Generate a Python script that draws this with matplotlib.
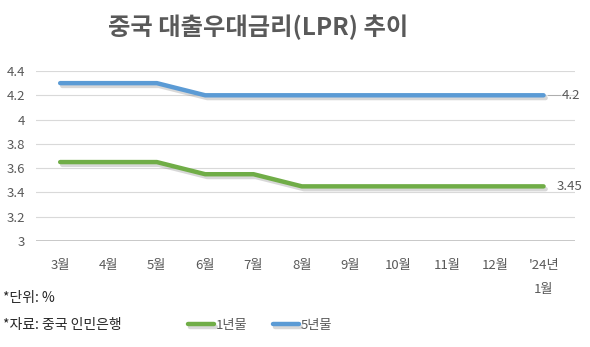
import matplotlib
matplotlib.use("Agg")
import matplotlib.pyplot as plt
import matplotlib.patheffects as pe

plt.rcParams['font.family'] = ['Noto Sans CJK KR', 'DejaVu Sans']

# 월별 LPR (%)
months = ['3월', '4월', '5월', '6월', '7월', '8월', '9월', '10월', '11월', '12월', "'24년\n\n1월"]
lpr_1y = [3.65, 3.65, 3.65, 3.55, 3.55, 3.45, 3.45, 3.45, 3.45, 3.45, 3.45]
lpr_5y = [4.3, 4.3, 4.3, 4.2, 4.2, 4.2, 4.2, 4.2, 4.2, 4.2, 4.2]
yticks = [3, 3.2, 3.4, 3.6, 3.8, 4, 4.2, 4.4]
ytick_labels = ['3', '3.2', '3.4', '3.6', '3.8', '4', '4.2', '4.4']

text_gray = '#595959'
green = '#70AD47'
blue = '#5B9BD5'

fig = plt.figure(figsize=(5.9, 3.47), dpi=100)
ax = fig.add_axes([36 / 590, 106 / 347, 539 / 590, 170 / 347])

shadow = [pe.SimpleLineShadow(offset=(1.5, -2), shadow_color='gray', alpha=0.3), pe.Normal()]
x = list(range(len(months)))
ax.plot(x, lpr_1y, color=green, lw=3.2, solid_capstyle='round', path_effects=shadow, label='1년물', zorder=3)
ax.plot(x, lpr_5y, color=blue, lw=3.2, solid_capstyle='round', path_effects=shadow, label='5년물', zorder=3)

ax.set_xlim(-0.5, 10.65)
ax.set_ylim(3, 4.4)
ax.set_yticks(yticks)
ax.set_yticklabels(ytick_labels)
ax.set_xticks(x)
ax.set_xticklabels(months, linespacing=0.9)
ax.grid(axis='y', color='#d9d9d9', lw=0.8)
ax.axhline(3, color='#bfbfbf', lw=1.2)
for s in ax.spines.values():
    s.set_visible(False)
ax.tick_params(length=0, colors=text_gray, labelsize=9.5)
ax.tick_params(axis='x', pad=13)
ax.tick_params(axis='y', pad=8)

# 마지막 값 라벨
ax.plot([x[-1] + 0.1, x[-1] + 0.35], [lpr_5y[-1], lpr_5y[-1]], color='#a6a6a6', lw=0.6)
ax.text(x[-1] + 0.38, lpr_5y[-1], f'{lpr_5y[-1]:g}', color=text_gray, fontsize=9.5, va='center', ha='left')
ax.text(x[-1] + 0.28, lpr_1y[-1], f'{lpr_1y[-1]:g}', color=text_gray, fontsize=9.5, va='center', ha='left')

fig.text(258 / 590, 1 - 27 / 347, '중국 대출우대금리(LPR) 추이', ha='center', va='center',
         fontsize=17.5, fontweight='bold', color=text_gray)
fig.text(3 / 590, 1 - 298 / 347, '*단위: %', ha='left', va='center', fontsize=10, color='#262626')
fig.text(3 / 590, 1 - 325 / 347, '*자료: 중국 인민은행', ha='left', va='center', fontsize=10, color='#262626')

fig.legend(loc='center', bbox_to_anchor=(260 / 590, 1 - 325 / 347), ncol=2, frameon=False,
           fontsize=9.5, handlelength=2.0, handletextpad=0.15, columnspacing=1.9,
           labelcolor=text_gray)

fig.savefig('out.png', dpi=100)
